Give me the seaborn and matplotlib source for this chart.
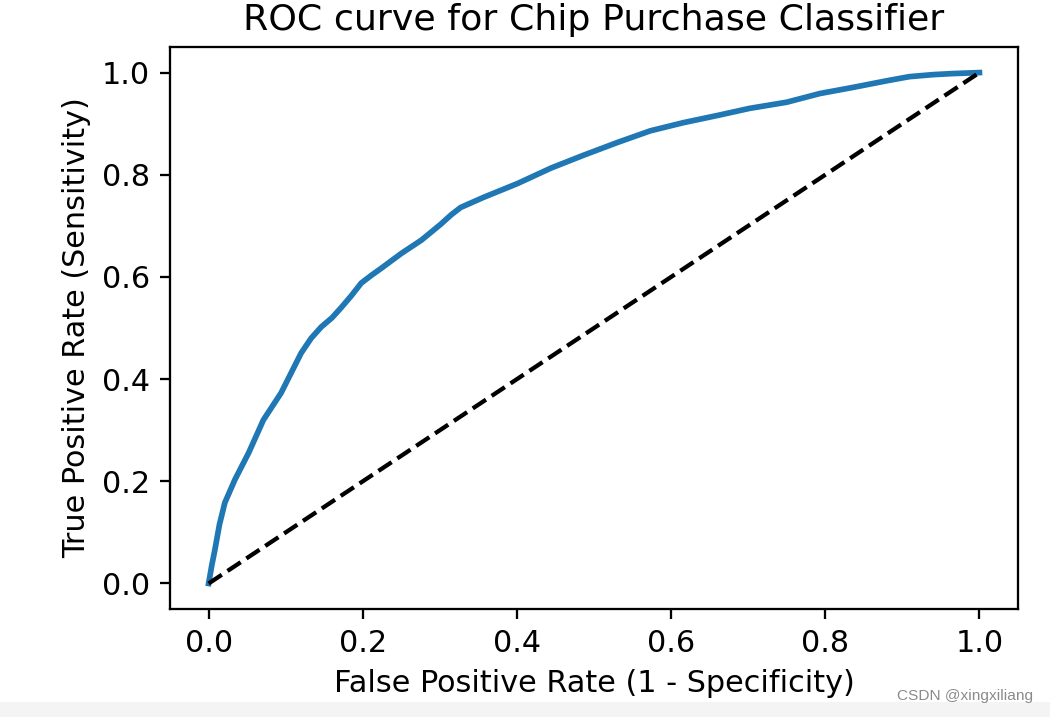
import matplotlib
matplotlib.use('Agg')
import matplotlib.pyplot as plt
import seaborn as sns
import pandas as pd
from matplotlib.patches import Rectangle

# ROC-Kurve
fpr = [0.000, 0.004, 0.008, 0.014, 0.021, 0.034, 0.052, 0.071, 0.094, 0.108,
       0.120, 0.133, 0.146, 0.160, 0.172, 0.185, 0.198, 0.211, 0.224, 0.250,
       0.276, 0.301, 0.315, 0.327, 0.357, 0.401, 0.444, 0.486, 0.530, 0.573,
       0.616, 0.660, 0.702, 0.750, 0.793, 0.836, 0.880, 0.909, 0.940, 0.965,
       1.000]
tpr = [0.000, 0.035, 0.065, 0.115, 0.158, 0.203, 0.256, 0.320, 0.373, 0.415,
       0.451, 0.480, 0.502, 0.520, 0.540, 0.563, 0.588, 0.603, 0.617, 0.646,
       0.672, 0.703, 0.722, 0.736, 0.756, 0.783, 0.813, 0.838, 0.863, 0.886,
       0.902, 0.916, 0.930, 0.942, 0.959, 0.971, 0.984, 0.992, 0.996, 0.998,
       1.000]
diag = [0, 1]

df_roc = pd.DataFrame({'fpr': fpr, 'tpr': tpr})

plt.rcParams['font.size'] = 10.65
plt.rcParams['axes.titlesize'] = 12.8

DPI = 205
fig = plt.figure(figsize=(1050 / DPI, 717 / DPI), dpi=DPI)
ax = fig.add_axes([0.162, 0.1506, 0.8075, 0.7838])

sns.lineplot(data=df_roc, x='fpr', y='tpr', sort=False, estimator=None,
             color='#1f77b4', linewidth=2, ax=ax)
sns.lineplot(x=diag, y=diag, color='k', linestyle='--', linewidth=1.5, ax=ax)

ax.set_xlim(-0.05, 1.05)
ax.set_ylim(-0.05, 1.05)
ax.set_xticks([0.0, 0.2, 0.4, 0.6, 0.8, 1.0])
ax.set_yticks([0.0, 0.2, 0.4, 0.6, 0.8, 1.0])
ax.set_title('ROC curve for Chip Purchase Classifier')
ax.set_xlabel('False Positive Rate (1 - Specificity)')
ax.set_ylabel('True Positive Rate (Sensitivity)')

# grauer Streifen + Wasserzeichen unten
fig.add_artist(Rectangle((0, 0), 1, 14 / 717, transform=fig.transFigure,
                         color='#f4f4f4', zorder=0))
fig.text(0.854, 0.029, 'CSDN @xingxiliang', fontsize=5.4, color='#8a8a8a',
         family='Liberation Sans', va='center', ha='left')

fig.savefig('out.png', dpi=DPI)
